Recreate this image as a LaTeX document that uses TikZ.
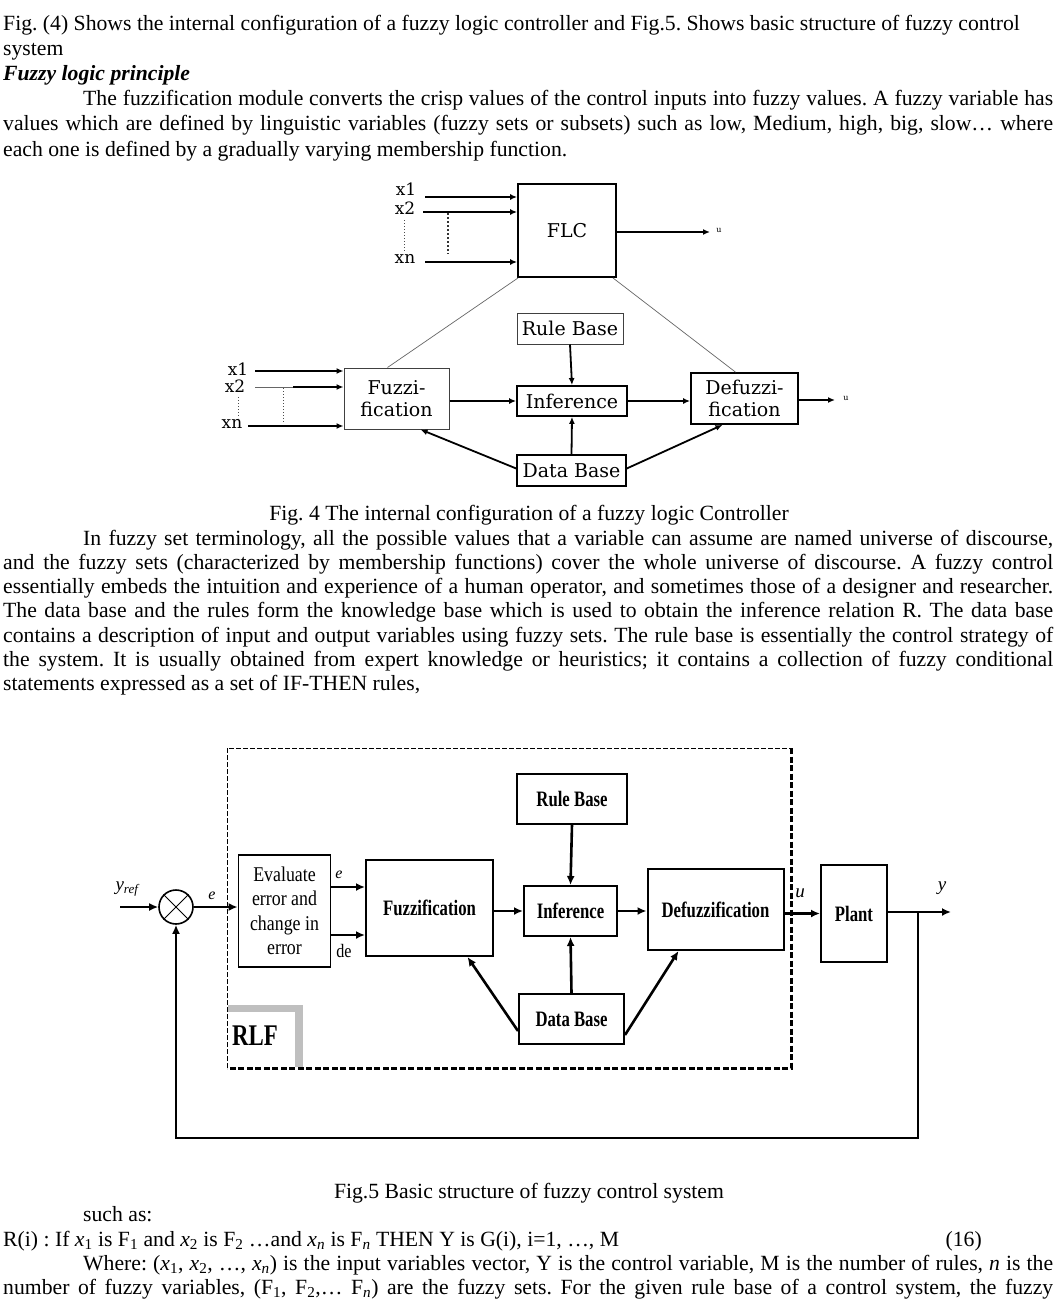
\documentclass[tikz,border=0pt]{standalone}
\usepackage{fontspec}
\setmainfont{Liberation Serif}
\newfontfamily\fourfont{DejaVu Serif}
\newfontfamily\fivefont[FakeStretch=0.76]{Liberation Serif}
\newfontfamily\evalfont[FakeStretch=0.85]{Liberation Serif}
\usetikzlibrary{arrows.meta}
\frenchspacing
\newcommand{\jl}[2]{\makebox[#1][s]{#2}}
\tikzset{
  txt/.style={anchor=base west, inner sep=0pt, font=\fontsize{21.7}{25}\selectfont},
  ctr/.style={anchor=base, inner sep=0pt, font=\fontsize{21.7}{25}\selectfont},
  fbox/.style={draw, line width=1.8pt, inner sep=0pt, align=center, font=\fourfont\fontsize{19}{22}\selectfont},
  fthin/.style={draw=black!75, line width=1pt, inner sep=0pt, align=center, font=\fourfont\fontsize{19}{22}\selectfont},
  farr/.style={line width=1.8pt, -{Latex[length=7pt,width=6pt]}},
  flab/.style={inner sep=0pt, font=\fourfont\fontsize{17}{17}\selectfont},
  fdot/.style={line width=1pt, dotted, black!70},
  vbox/.style={draw, line width=2pt, inner sep=0pt, align=center, font=\fivefont\bfseries\fontsize{22}{22}\selectfont},
  varr/.style={line width=2.6pt, -{Latex[length=9pt,width=8pt]}},
  vlab/.style={inner sep=0pt, font=\fontsize{19}{19}\selectfont\itshape},
}
\begin{document}
\begin{tikzpicture}[x=1pt,y=-1pt]
\useasboundingbox (0,0) rectangle (1057,1308);
\fill[white] (0,0) rectangle (1057,1308);

% ---------------- body text, top ----------------
\node[txt] (t1) at (3,31) {Fig. (4) Shows the internal configuration of a fuzzy logic controller and Fig.5. Shows basic structure of fuzzy control};
\node[txt] (t2) at (3,56) {system};
\node[txt] (t3) at (3,81) {\textbf{\textit{Fuzzy logic principle}}};
\node[txt] (t4) at (83,106) {\jl{970pt}{The fuzzification module converts the crisp values of the control inputs into fuzzy values. A fuzzy variable has}};
\node[txt] (t5) at (3,131) {\jl{1050pt}{values which are defined by linguistic variables (fuzzy sets or subsets) such as low, Medium, high, big, slow… where}};
\node[txt] (t6) at (3,157) {each one is defined by a gradually varying membership function.};

% ---------------- Fig. 4 ----------------
\node[fbox, minimum width=98pt, minimum height=93pt] (flc) at (567,230.5) {FLC};
\node[flab] (lx1) at (406,189) {x1};
\node[flab] (lx2) at (405,208) {x2};
\node[flab] (lxn) at (405,259) {xn};
\coordinate (a1) at (425,197);
\coordinate (a2) at (423,212);
\coordinate (an) at (425,262);
\draw[farr] (a1) -- (a1 -| flc.west);
\draw[farr] (a2) -- (a2 -| flc.west);
\draw[farr] (an) -- (an -| flc.west);
\coordinate (d1a) at (404,220); \coordinate (d1b) at (404,252);
\coordinate (d2a) at (448,213); \coordinate (d2b) at (448,254);
\draw[fdot] (d1a) -- (d1b);
\draw[line width=2pt, dotted, black!80] (d2a) -- (d2b);
\coordinate (uo1) at (710,232);
\draw[farr, line width=1.4pt] (flc.east |- uo1) -- (uo1);
\node[inner sep=0pt, font=\fourfont\fontsize{8}{8}\selectfont] (lu1) at (719,230) {u};

\node[fthin, minimum width=106pt, minimum height=31pt] (rb4) at (570,328.5) {Rule Base};
\node[fbox, minimum width=110pt, minimum height=30pt] (inf4) at (572,401) {Inference};
\node[fbox, line width=1.5pt, minimum width=109pt, minimum height=31pt] (db4) at (571.5,470.5) {Data Base};
\node[fthin, minimum width=105pt, minimum height=61pt] (fz4) at (396.5,398.5) {Fuzzi-\\fication};
\node[fbox, minimum width=107pt, minimum height=51pt] (dfz4) at (744.5,398.5) {Defuzzi-\\fication};

\draw[black!60, line width=0.7pt] ([xshift=1pt]flc.south west) -- ([xshift=-9pt]fz4.north);
\draw[black!60, line width=0.7pt] ([xshift=-4pt]flc.south east) -- ([xshift=-9pt]dfz4.north);

\node[flab] (mx1) at (238,369) {x1};
\node[flab] (mx2) at (235,386) {x2};
\node[flab] (mxn) at (232,424) {xn};
\coordinate (b1) at (255,371);
\coordinate (b2) at (255,387);
\coordinate (b2m) at (293,387);
\coordinate (bn) at (248,426);
\draw[farr] (b1) -- (b1 -| fz4.west);
\draw[black!60, line width=0.8pt] (b2) -- (b2m);
\draw[farr] (b2m) -- (b2m -| fz4.west);
\draw[farr] (bn) -- (bn -| fz4.west);
\coordinate (e1a) at (238,397); \coordinate (e1b) at (238,418);
\coordinate (e2a) at (283,388); \coordinate (e2b) at (283,422);
\draw[fdot] (e1a) -- (e1b);
\draw[fdot] (e2a) -- (e2b);

\draw[farr] (fz4.east |- inf4) -- (inf4.west);
\draw[farr] (inf4.east) -- (inf4.east -| dfz4.west);
\coordinate (uo2) at (835,400);
\draw[farr, line width=1.4pt] (dfz4.east |- uo2) -- (uo2);
\node[inner sep=0pt, font=\fourfont\fontsize{8}{8}\selectfont] (lu2) at (846,398) {u};
\draw[farr] (rb4.south) -- (inf4.north);
\draw[farr] (db4.north) -- (inf4.south);
\draw[farr] ([yshift=2pt]db4.west) -- ([xshift=24pt]fz4.south);
\draw[farr] ([yshift=2pt]db4.east) -- ([xshift=-22pt]dfz4.south);

\node[ctr] (cap4) at (529,520) {Fig. 4 The internal configuration of a fuzzy logic Controller};

% ---------------- body text, middle ----------------
\node[txt] (m1) at (83,545) {\jl{970pt}{In fuzzy set terminology, all the possible values that a variable can assume are named universe of discourse,}};
\node[txt] (m2) at (3,569) {\jl{1050pt}{and the fuzzy sets (characterized by membership functions) cover the whole universe of discourse. A fuzzy control}};
\node[txt] (m3) at (3,593) {\jl{1050pt}{essentially embeds the intuition and experience of a human operator, and sometimes those of a designer and researcher.}};
\node[txt] (m4) at (3,617) {\jl{1050pt}{The data base and the rules form the knowledge base which is used to obtain the inference relation R. The data base}};
\node[txt] (m5) at (3,642) {\jl{1050pt}{contains a description of input and output variables using fuzzy sets. The rule base is essentially the control strategy of}};
\node[txt] (m6) at (3,666) {\jl{1050pt}{the system. It is usually obtained from expert knowledge or heuristics; it contains a collection of fuzzy conditional}};
\node[txt] (m7) at (3,690) {statements expressed as a set of IF-THEN rules,};

% ---------------- Fig. 5 ----------------
\draw[dash pattern=on 5pt off 2pt, line width=1pt] (227,1068) -- (227,748) -- (791,748);
\draw[dash pattern=on 6pt off 2.5pt, line width=3pt] (791,748) -- (791,1068) -- (227,1068);
\fill[gray!50] (228,1005) rectangle (303,1012);
\fill[gray!50] (295,1005) rectangle (303,1067);
\node[inner sep=0pt, font=\fivefont\bfseries\fontsize{30}{30}\selectfont] (rlf) at (255,1036) {RLF};

\node[vbox, minimum width=110pt, minimum height=50pt] (rb5) at (572,798.5) {Rule Base};
\node[vbox, minimum width=93pt, minimum height=50pt] (inf5) at (570.5,911) {Inference};
\node[vbox, minimum width=105pt, minimum height=50pt] (db5) at (571.5,1019) {Data Base};
\node[vbox, minimum width=127pt, minimum height=96pt] (fz5) at (429.5,908) {Fuzzification};
\node[vbox, minimum width=136pt, minimum height=81pt] (dfz5) at (715.5,909.5) {Defuzzification};
\node[vbox, minimum width=66pt, minimum height=97pt] (plant) at (854,913.5) {Plant};
\node[draw, line width=1.8pt, inner sep=0pt, minimum width=92pt, minimum height=112pt, align=center,
      font=\evalfont\fontsize{21}{24.5}\selectfont] (eval) at (284.5,911) {Evaluate\\error and\\change in\\error};
\node[circle, draw, line width=1.6pt, minimum size=34pt, inner sep=0pt] (sum) at (176,907) {};
\draw[line width=0.8pt] (sum.north west) -- (sum.south east);
\draw[line width=0.8pt] (sum.north east) -- (sum.south west);

\node[vlab] (lyref) at (127,889) {y\textsubscript{\fontsize{13}{13}\selectfont ref}};
\coordinate (yin) at (120,907);
\draw[varr] (yin) -- (sum.west);
\node[vlab, font=\fontsize{16}{16}\selectfont\itshape] (le1) at (212,896) {e};
\draw[varr, line width=2pt] (sum.east) -- (sum.east -| eval.west);
\coordinate (ee) at (331,887);
\coordinate (ed) at (331,935);
\draw[varr] (ee) -- (ee -| fz5.west);
\draw[varr] (ed) -- (ed -| fz5.west);
\node[vlab, font=\fontsize{16}{16}\selectfont\itshape] (le2) at (339,875) {e};
\node[inner sep=0pt, font=\evalfont\fontsize{19}{19}\selectfont] (lde) at (344,951) {de};
\draw[varr] (fz5.east |- inf5) -- (inf5.west);
\draw[varr] (inf5.east) -- (inf5.east -| dfz5.west);
\draw[varr] (dfz5.east |- plant) -- (plant.west);
\node[vlab] (lu5) at (800,893) {u};
\coordinate (yout) at (951,912);
\draw[varr] (plant.east |- yout) -- (yout);
\node[vlab] (ly5) at (942,888) {y};
\draw[varr] (rb5.south) -- (inf5.north);
\draw[varr] (db5.north) -- (inf5.south);
\draw[varr] ([yshift=-12pt]db5.west) -- ([xshift=38pt]fz5.south);
\draw[varr] ([yshift=-16pt]db5.east) -- ([xshift=-37pt]dfz5.south);
\coordinate (tap) at (918,912);
\draw[line width=1.8pt, -{Latex[length=9pt,width=8pt]}] (tap) -- (918,1138) -| (sum.south);

\node[ctr] (cap5) at (529,1198) {Fig.5 Basic structure of fuzzy control system};

% ---------------- body text, bottom ----------------
\node[txt] (b1t) at (83,1221) {such as:};
\node[txt] (b2t) at (3,1246) {R(i) : If \textit{x}\textsubscript{1} is F\textsubscript{1} and \textit{x}\textsubscript{2} is F\textsubscript{2} …and \textit{x\textsubscript{n}} is F\textsubscript{\textit{n}} THEN Y is G(i), i=1, …, M};
\node[txt, anchor=base east] (b2n) at (982,1246) {(16)};
\node[txt] (b3t) at (83,1270) {\jl{970pt}{Where: (\textit{x}\textsubscript{1}, \textit{x}\textsubscript{2}, …, \textit{x\textsubscript{n}}) is the input variables vector, Y is the control variable, M is the number of rules, \textit{n} is the}};
\node[txt] (b4t) at (3,1294) {\jl{1050pt}{number of fuzzy variables, (F\textsubscript{1}, F\textsubscript{2},… F\textsubscript{\textit{n}}) are the fuzzy sets. For the given rule base of a control system, the fuzzy}};
\end{tikzpicture}
\end{document}
